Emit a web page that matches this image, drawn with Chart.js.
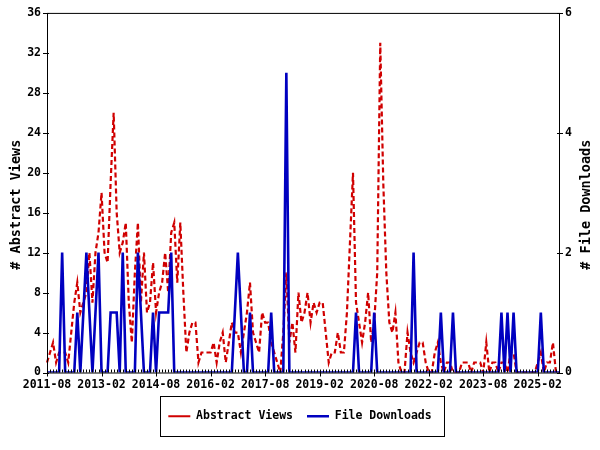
<!DOCTYPE html>
<html>
<head>
<meta charset="utf-8">
<script src="https://cdn.jsdelivr.net/npm/chart.js@4.4.1/dist/chart.umd.min.js"></script>
<style>
	html, body { margin: 0; padding: 0; background: #fff; }
</style>
</head>
<body>
<canvas id="myChart" width="600" height="450"></canvas>
<script>
/* data */
const startYear = 2011;
const startMonth = 8;
const monthCount = 170;

const tickLabels = ['2011-08', '2013-02', '2014-08', '2016-02', '2017-08', '2019-02', '2020-08', '2022-02', '2023-08', '2025-02'];

const abstractViews = [
	1, 2, 3, 1, 2, 2, 2, 1, 4, 7,
	9, 6, 7, 8, 12, 7, 12, 14, 18, 12,
	11, 19, 26, 16, 12, 13, 15, 7, 3, 10,
	15, 7, 12, 6, 7, 11, 6, 8, 9, 12,
	8, 14, 15, 9, 15, 8, 2, 4, 5, 5,
	1, 2, 2, 2, 2, 3, 1, 3, 4, 1,
	3, 5, 4, 4, 2, 4, 6, 9, 4, 3,
	2, 6, 5, 5, 3, 2, 1, 0, 4, 10,
	3, 5, 2, 8, 5, 6, 8, 5, 7, 6,
	7, 7, 4, 1, 2, 2, 4, 2, 2, 6,
	13, 20, 7, 5, 3, 5, 8, 3, 5, 10,
	33, 19, 10, 5, 4, 6, 1, 0, 0, 4,
	2, 1, 2, 3, 3, 1, 0, 0, 2, 3,
	1, 0, 1, 1, 0, 0, 0, 1, 1, 1,
	0, 1, 1, 1, 0, 3, 0, 1, 1, 0,
	1, 1, 0, 2, 2, 0, 0, 0, 0, 0,
	0, 0, 1, 2, 0, 1, 1, 3, 0, 0
];

const fileDownloads = [
	0, 0, 0, 0, 0, 2, 0, 0, 0, 0,
	1, 0, 1, 2, 1, 0, 1, 2, 0, 0,
	0, 1, 1, 1, 0, 2, 0, 0, 0, 0,
	2, 1, 0, 0, 0, 1, 0, 1, 1, 1,
	1, 2, 0, 0, 0, 0, 0, 0, 0, 0,
	0, 0, 0, 0, 0, 0, 0, 0, 0, 0,
	0, 0, 1, 2, 1, 0, 0, 1, 0, 0,
	0, 0, 0, 0, 1, 0, 0, 0, 0, 5,
	0, 0, 0, 0, 0, 0, 0, 0, 0, 0,
	0, 0, 0, 0, 0, 0, 0, 0, 0, 0,
	0, 0, 1, 0, 0, 0, 0, 0, 1, 0,
	0, 0, 0, 0, 0, 0, 0, 0, 0, 0,
	0, 2, 0, 0, 0, 0, 0, 0, 0, 0,
	1, 0, 0, 0, 1, 0, 0, 0, 0, 0,
	0, 0, 0, 0, 0, 0, 0, 0, 0, 0,
	1, 0, 1, 0, 1, 0, 0, 0, 0, 0,
	0, 0, 0, 1, 0, 0, 0, 0, 0, 0
];

// one label per month, 2011-08 onwards
const months = [];
for (let i = 0; i < monthCount; i++) {
	const m = startMonth - 1 + i;
	const y = startYear + Math.floor(m / 12);
	months.push(y + '-' + String(m % 12 + 1).padStart(2, '0'));
}

const monoFont = { family: 'DejaVu Sans Mono', size: 11.5, weight: 'bold' };

/* frame, tick marks and axis titles drawn like gnuplot */
const gnuplotFrame = {
	id: 'gnuplotFrame',
	afterDatasetsDraw(chart) {
		const { ctx, chartArea: a, scales } = chart;
		ctx.save();
		ctx.strokeStyle = '#000';
		ctx.lineWidth = 1;
		ctx.setLineDash([]);
		ctx.strokeRect(a.left + 0.5, a.top + 0.5, a.right - a.left, a.bottom - a.top);

		ctx.beginPath();
		months.forEach((m, i) => {
			const x = Math.round(scales.x.getPixelForValue(i)) + 0.5;
			if (tickLabels.includes(m)) {
				ctx.moveTo(x, a.bottom - 3);
				ctx.lineTo(x, a.bottom + 4);
			} else {
				ctx.moveTo(x, a.bottom - 3);
				ctx.lineTo(x, a.bottom);
			}
		});
		scales.y.ticks.forEach(t => {
			const y = Math.round(scales.y.getPixelForValue(t.value)) + 0.5;
			ctx.moveTo(a.left - 4, y);
			ctx.lineTo(a.left + 2, y);
		});
		scales.y2.ticks.forEach(t => {
			const y = Math.round(scales.y2.getPixelForValue(t.value)) + 0.5;
			ctx.moveTo(a.right - 2, y);
			ctx.lineTo(a.right + 4, y);
		});
		ctx.stroke();

		// axis titles, both read bottom to top
		ctx.fillStyle = '#000';
		ctx.font = 'bold 13.5px "DejaVu Sans Mono"';
		ctx.textAlign = 'center';
		ctx.textBaseline = 'middle';
		const midY = (a.top + a.bottom) / 2 + 12;
		[[16, '# Abstract Views'], [586, '# File Downloads']].forEach(([x, text]) => {
			ctx.save();
			ctx.translate(x, midY);
			ctx.rotate(-Math.PI / 2);
			ctx.fillText(text, 0, 0);
			ctx.restore();
		});
		ctx.restore();
	},
	afterDraw(chart) {
		// box round the legend
		const boxes = chart.legend.legendHitBoxes;
		if (!boxes || !boxes.length) return;
		const left = Math.min(...boxes.map(b => b.left)) - 8;
		const right = Math.max(...boxes.map(b => b.left + b.width)) + 13;
		const cy = boxes[0].top + boxes[0].height / 2;
		const ctx = chart.ctx;
		ctx.save();
		ctx.strokeStyle = '#000';
		ctx.lineWidth = 1;
		ctx.setLineDash([]);
		ctx.strokeRect(Math.round(left) + 0.5, Math.round(cy - 20) + 0.5, Math.round(right - left), 40);
		ctx.restore();
	}
};

const ctx = document.getElementById('myChart');

new Chart(ctx, {
	type: 'line',
	data: {
		labels: months,
		datasets: [{
			label: 'Abstract Views',
			data: abstractViews,
			yAxisID: 'y',
			borderColor: '#d00000',
			backgroundColor: '#d00000',
			borderWidth: 2.2,
			borderDash: [5, 3],
			pointRadius: 0,
			pointStyle: 'line',
			tension: 0,
			order: 1
		}, {
			label: 'File Downloads',
			data: fileDownloads,
			yAxisID: 'y2',
			borderColor: '#0000c0',
			backgroundColor: '#0000c0',
			borderWidth: 2.6,
			pointRadius: 0,
			pointStyle: 'line',
			tension: 0,
			order: 0
		}]
	},
	options: {
		responsive: false,
		animation: false,
		layout: {
			padding: { top: 10, left: 0, right: 0, bottom: 18 }
		},
		plugins: {
			tooltip: { enabled: false },
			legend: {
				position: 'bottom',
				labels: {
					usePointStyle: true,
					pointStyleWidth: 22,
					padding: 14,
					color: '#000',
					font: monoFont,
					sort: (a, b) => a.datasetIndex - b.datasetIndex
				}
			}
		},
		scales: {
			x: {
				type: 'category',
				grid: { display: false, drawTicks: false },
				border: { display: false },
				ticks: {
					autoSkip: false,
					maxRotation: 0,
					minRotation: 0,
					padding: 6,
					color: '#000',
					font: monoFont,
					callback: function (value) {
						const label = this.getLabelForValue(value);
						return tickLabels.includes(label) ? label : '';
					}
				},
				afterFit: scale => { scale.height = 24; }
			},
			y: {
				position: 'left',
				min: 0,
				max: 36,
				grid: { display: false, drawTicks: false },
				border: { display: false },
				ticks: { stepSize: 4, padding: 6, color: '#000', font: monoFont },
				afterFit: scale => { scale.width = 47; }
			},
			y2: {
				position: 'right',
				min: 0,
				max: 6,
				grid: { display: false, drawTicks: false },
				border: { display: false },
				ticks: { stepSize: 2, padding: 6, color: '#000', font: monoFont },
				afterFit: scale => { scale.width = 41; }
			}
		}
	},
	plugins: [gnuplotFrame]
});
</script>
</body>
</html>
